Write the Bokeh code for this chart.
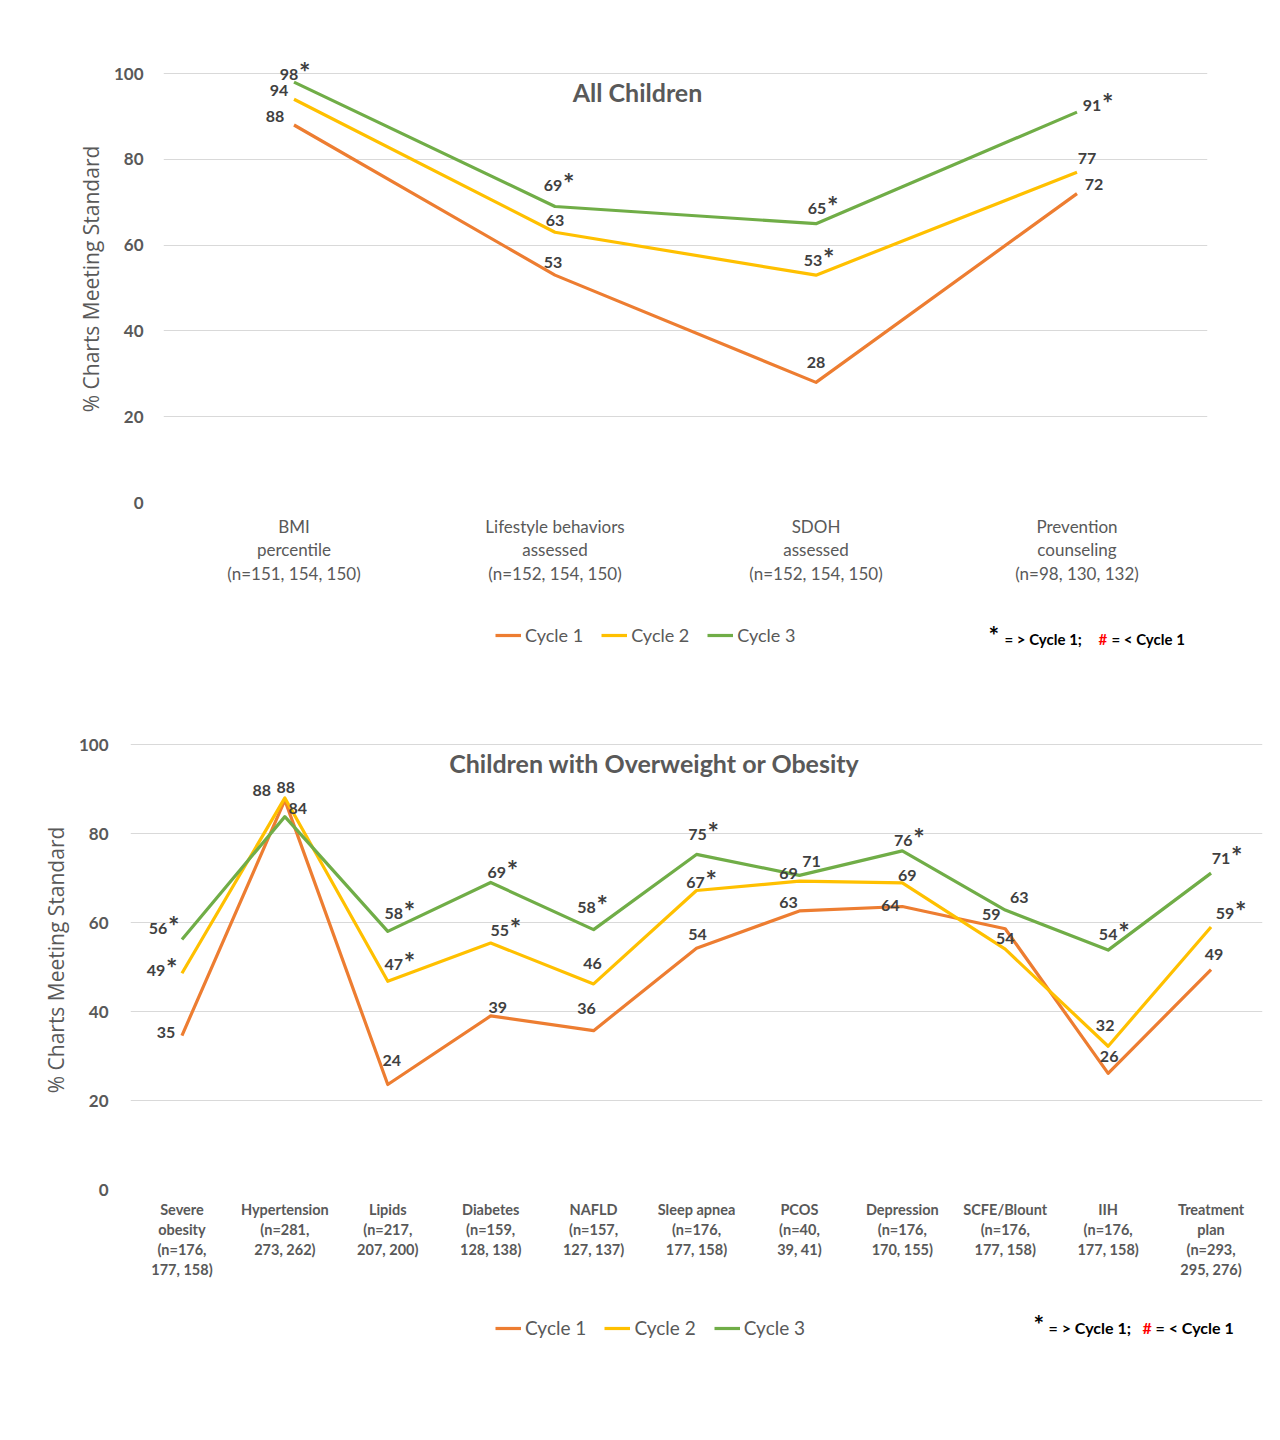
from bokeh.plotting import figure
from bokeh.models import Range1d, FixedTicker, Legend, LegendItem, Label, ColumnDataSource
from bokeh.layouts import column
from bokeh.embed import file_html
from bokeh.resources import INLINE
from bokeh.core.properties import value

# ---------------- data ----------------
top_categories = ["BMI\npercentile\n(n=151, 154, 150)",
                  "Lifestyle behaviors\nassessed\n(n=152, 154, 150)",
                  "SDOH\nassessed\n(n=152, 154, 150)",
                  "Prevention\ncounseling\n(n=98, 130, 132)"]
top_cycle1 = [88, 53, 28, 72]
top_cycle2 = [94, 63, 53, 77]
top_cycle3 = [98, 69, 65, 91]
top_sig1 = [False, False, False, False]
top_sig2 = [False, False, True, False]
top_sig3 = [True, True, True, True]

bot_categories = ["Severe\nobesity\n(n=176,\n177, 158)",
                  "Hypertension\n(n=281,\n273, 262)",
                  "Lipids\n(n=217,\n207, 200)",
                  "Diabetes\n(n=159,\n128, 138)",
                  "NAFLD\n(n=157,\n127, 137)",
                  "Sleep apnea\n(n=176,\n177, 158)",
                  "PCOS\n(n=40,\n39, 41)",
                  "Depression\n(n=176,\n170, 155)",
                  "SCFE/Blount\n(n=176,\n177, 158)",
                  "IIH\n(n=176,\n177, 158)",
                  "Treatment\nplan\n(n=293,\n295, 276)"]
bot_cycle1 = [34.6, 87.5, 23.6, 39.0, 35.7, 54.2, 62.6, 63.6, 58.6, 26.1, 49.4]
bot_cycle2 = [48.6, 88.0, 46.8, 55.4, 46.2, 67.2, 69.3, 68.9, 54.0, 32.2, 59.0]
bot_cycle3 = [56.2, 83.8, 58.0, 69.0, 58.4, 75.3, 70.6, 76.1, 62.8, 53.8, 71.1]
bot_sig1 = [False] * 11
bot_sig2 = [True, False, True, True, False, True, False, False, False, False, True]
bot_sig3 = [True, False, True, True, True, True, False, True, False, True, True]

series_names = ["Cycle 1", "Cycle 2", "Cycle 3"]
y_ticks = [0, 20, 40, 60, 80, 100]
note_parts = ["*", "= > Cycle 1;", "#", "= < Cycle 1"]

# ---------------- styles (label offsets in screen px) ----------------
COLORS = ["#ED7D31", "#FFC000", "#70AD47"]
GREY = "#595959"
LABEL_COLOR = "#404040"
FONT = "Lato"

top_offsets = [
    [(-19, -8), (-2, -13), (0, -20), (17, -9)],
    [(-15, -9), (0, -12), (-3, -15), (10, -14)],
    [(-5, -8), (-2, -21), (1, -15), (15, -7)],
]
bot_offsets = [
    [(-16, -3), (-23, -10), (4, -24), (7, -8), (-7, -22), (1, -14), (-11, -8), (-12, -1), (-14, -14), (1, -17), (3, -15)],
    [(-26, -3), (1, -10), (6, -17), (9, -12), (-1, -20), (-1, -8), (-11, -8), (5, -7), (0, -11), (-3, -21), (14, -13)],
    [(-24, -11), (13, -8), (6, -18), (6, -10), (-7, -22), (1, -20), (12, -14), (1, -10), (14, -13), (0, -16), (10, -15)],
]


def make_chart(cats, series, sigs, offsets, title, cfg):
    n = len(cats)
    p = figure(width=cfg["width"], height=cfg["height"], output_backend="svg",
               toolbar_location=None, x_range=Range1d(-0.5, n - 0.5),
               y_range=Range1d(0, cfg["ytop"]),
               min_border_left=cfg["bl"], min_border_right=cfg["br"],
               min_border_top=cfg["bt"], min_border_bottom=cfg["bb"])
    p.frame_align = False
    p.outline_line_color = None
    p.background_fill_color = "white"
    p.border_fill_color = "white"
    p.xgrid.grid_line_color = None
    p.ygrid.grid_line_color = "#d9d9d9"
    p.ygrid.grid_line_width = 1

    # y axis
    p.yaxis.ticker = FixedTicker(ticks=y_ticks)
    p.yaxis.axis_line_color = None
    p.yaxis.major_tick_line_color = None
    p.yaxis.minor_tick_line_color = None
    p.yaxis.major_label_text_font = FONT
    p.yaxis.major_label_text_font_size = "17px"
    p.yaxis.major_label_text_font_style = "bold"
    p.yaxis.major_label_text_color = GREY
    p.yaxis.major_label_standoff = cfg["ystand"]
    p.yaxis.axis_label = "% Charts Meeting Standard"
    p.yaxis.axis_label_text_font = "Open Sans"
    p.yaxis.axis_label_text_font_size = "21px"
    p.yaxis.axis_label_text_font_style = "normal"
    p.yaxis.axis_label_text_color = GREY
    p.yaxis.axis_label_standoff = 6

    # x axis
    p.xaxis.ticker = FixedTicker(ticks=list(range(n)))
    p.xaxis.major_label_overrides = {i: c for i, c in enumerate(cats)}
    p.xaxis.axis_line_color = None
    p.xaxis.major_tick_line_color = None
    p.xaxis.minor_tick_line_color = None
    p.xaxis.major_label_text_font = FONT
    p.xaxis.major_label_text_font_size = cfg["xfs"]
    p.xaxis.major_label_text_font_style = cfg["xstyle"]
    p.xaxis.major_label_text_color = GREY
    p.xaxis.major_label_text_line_height = cfg["xlh"]
    p.xaxis.major_label_standoff = cfg["xstand"]

    xs = list(range(n))
    renderers = []
    for vals, col in zip(series, COLORS):
        renderers.append(p.line(xs, vals, line_color=col, line_width=3.2, line_join="round"))

    for k, vals in enumerate(series):
        labels = [str(int(v + 0.5)) for v in vals]
        dx = [o[0] for o in offsets[k]]
        dy = [o[1] for o in offsets[k]]
        src = ColumnDataSource(dict(x=xs, y=vals, t=labels, dx=dx, dy=dy))
        p.text(x="x", y="y", text="t", x_offset="dx", y_offset="dy", source=src,
               text_font=value(FONT), text_font_size="16px", text_font_style="bold",
               text_color=LABEL_COLOR, text_align="center", text_baseline="middle")
        sx, sy, sdx, sdy = [], [], [], []
        for i, s in enumerate(sigs[k]):
            if s:
                sx.append(xs[i]); sy.append(vals[i])
                sdx.append(dx[i] + 10); sdy.append(dy[i] - 3)
        if sx:
            src2 = ColumnDataSource(dict(x=sx, y=sy, dx=sdx, dy=sdy))
            p.text(x="x", y="y", text=value("*"), x_offset="dx", y_offset="dy", source=src2,
                   text_font=value(FONT), text_font_size="27px", text_font_style="bold",
                   text_color=LABEL_COLOR, text_align="left", text_baseline="middle")

    # title (screen units from frame bottom-left)
    p.add_layout(Label(x=cfg["title_x"], y=cfg["title_y"], x_units="screen", y_units="screen",
                       text=title, text_font=FONT, text_font_size="25px", text_font_style="bold",
                       text_color=GREY, text_align="center", text_baseline="middle"))
    return p, renderers


def legend_strip(height, leg_x, leg_bottom, leg_fs, note_x, note_y, note_fs):
    q = figure(width=1264, height=height, output_backend="svg", toolbar_location=None,
               x_range=Range1d(0, 1264), y_range=Range1d(0, height),
               min_border_left=0, min_border_right=0, min_border_top=0, min_border_bottom=0)
    q.frame_align = False
    q.xaxis.visible = False
    q.yaxis.visible = False
    q.xgrid.grid_line_color = None
    q.ygrid.grid_line_color = None
    q.outline_line_color = None
    q.background_fill_color = "white"
    q.border_fill_color = "white"
    # legend key renderers, kept outside the visible strip
    rs = [q.line(x=[-50, -40], y=[-50, -50], line_color=c, line_width=3.2) for c in COLORS]
    legend = Legend(items=[LegendItem(label=nm, renderers=[r]) for nm, r in zip(series_names, rs)],
                    orientation="horizontal", location=(leg_x, leg_bottom),
                    border_line_color=None, background_fill_alpha=0,
                    label_text_font=FONT, label_text_font_size=leg_fs, label_text_color=GREY,
                    glyph_width=26, glyph_height=20, label_standoff=4, spacing=18,
                    padding=0, margin=0, label_height=20)
    q.add_layout(legend, "center")
    colors = ["black", "black", "#FF0000", "black"]
    sizes = ["25px", note_fs, note_fs, note_fs]
    for part, px, py, c, s in zip(note_parts, note_x, note_y, colors, sizes):
        q.add_layout(Label(x=px, y=py, text=part, text_font=FONT, text_font_size=s,
                           text_font_style="bold", text_color=c,
                           text_align="left", text_baseline="middle"))
    return q


top_cfg = dict(width=1264, height=600, bl=163, br=57, bt=55, bb=98, ytop=104.2,
               ystand=14, xfs="17px", xstyle="normal", xlh=1.12, xstand=7,
               title_x=474, title_y=411)
bot_cfg = dict(width=1264, height=620, bl=130, br=2, bt=50, bb=111, ytop=103.15,
               ystand=16, xfs="14.5px", xstyle="bold", xlh=1.18, xstand=5,
               title_x=524, title_y=427)

p1, r1 = make_chart(top_categories, [top_cycle1, top_cycle2, top_cycle3],
                    [top_sig1, top_sig2, top_sig3], top_offsets, "All Children", top_cfg)
leg1 = legend_strip(80, 495, 34, "18px",
                    [988, 1004, 1098, 1111], [46, 42, 42, 42], "15px")
p2, r2 = make_chart(bot_categories, [bot_cycle1, bot_cycle2, bot_cycle3],
                    [bot_sig1, bot_sig2, bot_sig3], bot_offsets,
                    "Children with Overweight or Obesity", bot_cfg)
leg2 = legend_strip(60, 495, 21, "19px",
                    [1033, 1048, 1142, 1155], [37, 33, 33, 33], "16px")

layout = column(p1, leg1, p2, leg2, spacing=0)
open("out.html", "w").write(file_html(layout, INLINE))
